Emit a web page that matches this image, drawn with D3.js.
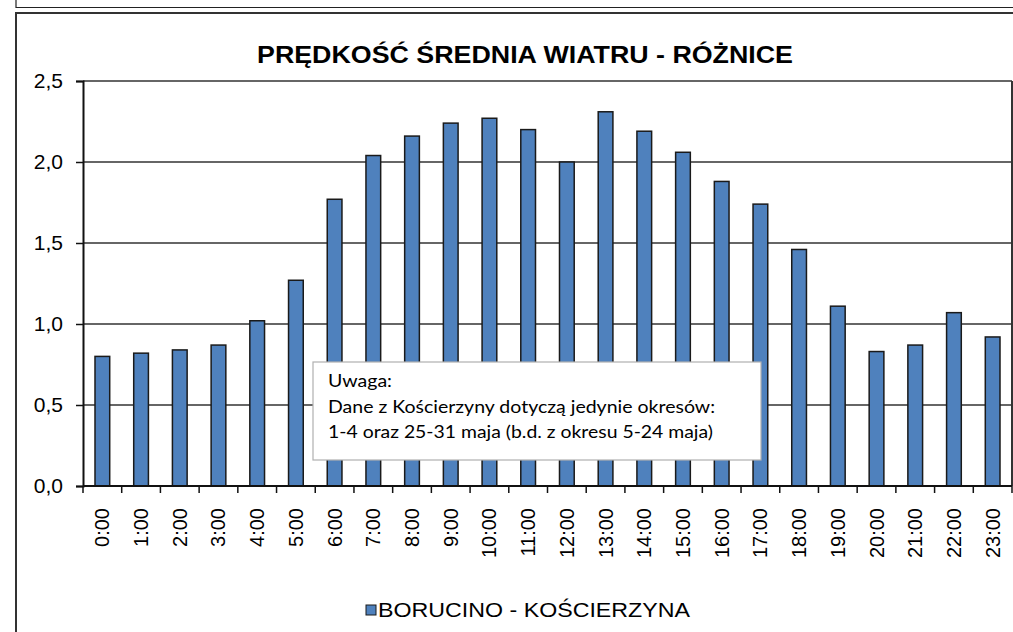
<!DOCTYPE html>
<html>
<head>
<meta charset="utf-8">
<script src="https://cdn.jsdelivr.net/npm/d3@7"></script>
<style>
  body { margin: 0; background: #fff; }
  svg { display: block; font-family: Arial, "Liberation Sans", sans-serif; }
</style>
</head>
<body>
<svg id="chart" width="1013" height="632"></svg>
<script>
// chart data
const hours = ["0:00","1:00","2:00","3:00","4:00","5:00","6:00","7:00","8:00","9:00","10:00","11:00",
               "12:00","13:00","14:00","15:00","16:00","17:00","18:00","19:00","20:00","21:00","22:00","23:00"];
const diffs = [0.80, 0.82, 0.84, 0.87, 1.02, 1.27, 1.77, 2.04, 2.16, 2.24, 2.27, 2.20,
               2.00, 2.31, 2.19, 2.06, 1.88, 1.74, 1.46, 1.11, 0.83, 0.87, 1.07, 0.92];
const yTicks = [0, 0.5, 1.0, 1.5, 2.0, 2.5];
const titleText = "PRĘDKOŚĆ ŚREDNIA WIATRU - RÓŻNICE";
const seriesName = "BORUCINO - KOŚCIERZYNA";
const noteLines = ["Uwaga:",
                   "Dane z Kościerzyny dotyczą jedynie okresów:",
                   "1-4 oraz 25-31 maja (b.d. z okresu 5-24 maja)"];

const svg = d3.select("#chart");
const margin = { left: 83, right: 1012, top: 81, bottom: 486 };
const barColor = "#4f81bd";
const sans = "Arial, 'Liberation Sans', sans-serif";
const fmt = d => d3.format(".1f")(d).replace(".", ",");

// outer frames (previous chart bottom + this chart border)
svg.append("path").attr("d", "M16,0 V7.5 H1013").attr("fill", "none")
    .attr("stroke", "#222").attr("stroke-width", 1.2);
svg.append("path").attr("d", "M16,632 V13 H1013").attr("fill", "none")
    .attr("stroke", "#333").attr("stroke-width", 2);

// scales
const x = d3.scaleBand().domain(hours).range([margin.left, margin.right]).paddingInner(0.62).paddingOuter(0.31);
const xTick = d3.scaleBand().domain(hours).range([margin.left, margin.right]);
const y = d3.scaleLinear().domain([0, 2.5]).range([margin.bottom, margin.top]);

// title
svg.append("text")
    .attr("x", 525).attr("y", 63)
    .attr("text-anchor", "middle")
    .attr("font-family", sans)
    .attr("font-size", 24).attr("font-weight", "bold")
    .attr("textLength", 536).attr("lengthAdjust", "spacingAndGlyphs")
    .text(titleText);

// gridlines
svg.append("g").selectAll("line").data(yTicks.filter(d => d > 0)).join("line")
    .attr("x1", margin.left).attr("x2", margin.right)
    .attr("y1", d => y(d)).attr("y2", d => y(d))
    .attr("stroke", "#333").attr("stroke-width", 1.3);

// right border of plot
svg.append("line")
    .attr("x1", margin.right).attr("x2", margin.right)
    .attr("y1", margin.top).attr("y2", margin.bottom)
    .attr("stroke", "#333").attr("stroke-width", 2);

// bars
svg.append("g").selectAll("rect").data(diffs).join("rect")
    .attr("x", (d, i) => x(hours[i]))
    .attr("y", d => y(d))
    .attr("width", x.bandwidth())
    .attr("height", d => y(0) - y(d))
    .attr("fill", barColor)
    .attr("stroke", "#1a1a1a").attr("stroke-width", 1.5);

// y axis
const yAxis = svg.append("g").attr("transform", `translate(${margin.left},0)`)
    .call(d3.axisLeft(y).tickValues(yTicks).tickFormat(fmt).tickSize(7).tickPadding(13));
yAxis.select(".domain").attr("stroke", "#111").attr("stroke-width", 2);
yAxis.selectAll(".tick line").attr("stroke", "#111").attr("stroke-width", 1.5);
yAxis.selectAll(".tick text").attr("font-size", 21).attr("fill", "#000")
    .attr("font-family", sans);

// x axis: ticks at band edges
const xAxis = svg.append("g").attr("transform", `translate(0,${margin.bottom})`);
xAxis.append("line").attr("x1", margin.left).attr("x2", margin.right)
    .attr("stroke", "#111").attr("stroke-width", 2);
xAxis.selectAll(".edge").data(hours.concat(["end"])).join("line")
    .attr("class", "edge")
    .attr("x1", (d, i) => i < hours.length ? xTick(d) : margin.right)
    .attr("x2", (d, i) => i < hours.length ? xTick(d) : margin.right)
    .attr("y1", 0).attr("y2", 7)
    .attr("stroke", "#111").attr("stroke-width", 1.5);
xAxis.selectAll("text").data(hours).join("text")
    .attr("transform", d => `translate(${xTick(d) + xTick.bandwidth() / 2 + 7},22) rotate(-90)`)
    .attr("text-anchor", "end")
    .attr("font-family", sans)
    .attr("font-size", 20)
    .text(d => d);

// annotation box
const note = svg.append("g");
note.append("rect")
    .attr("x", 313).attr("y", 362).attr("width", 448).attr("height", 98)
    .attr("fill", "#fff").attr("stroke", "#b0b0b0").attr("stroke-width", 1.2);
const noteWidths = [64, 387, 385];
note.selectAll("text").data(noteLines).join("text")
    .attr("x", 328).attr("y", (d, i) => 387 + i * 25.6)
    .attr("font-family", "Lato, 'Open Sans', sans-serif")
    .attr("font-size", 17)
    .attr("textLength", (d, i) => noteWidths[i]).attr("lengthAdjust", "spacingAndGlyphs")
    .text(d => d);

// legend
const legend = svg.append("g");
legend.append("rect")
    .attr("x", 366).attr("y", 605).attr("width", 10).attr("height", 10)
    .attr("fill", barColor).attr("stroke", "#1a1a1a").attr("stroke-width", 1);
legend.append("text")
    .attr("x", 378).attr("y", 617)
    .attr("font-family", sans)
    .attr("font-size", 21)
    .attr("textLength", 312).attr("lengthAdjust", "spacingAndGlyphs")
    .text(seriesName);
</script>
</body>
</html>
